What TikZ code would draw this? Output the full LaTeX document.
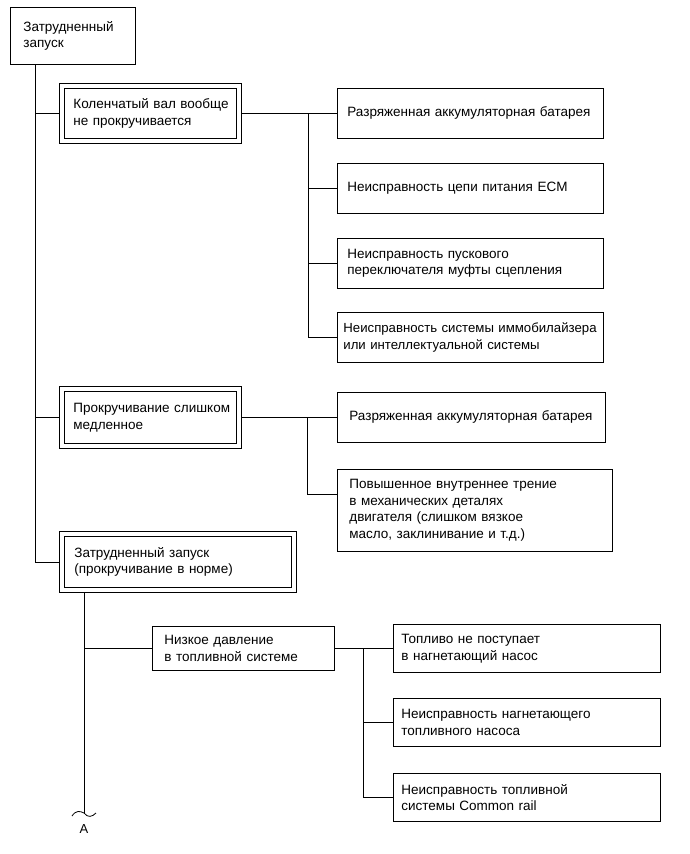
\documentclass[tikz,border=0pt]{standalone}
\usepackage{fontspec}
\setmainfont{Liberation Sans}
\tikzset{
  bx/.style={draw, line width=0.8pt, anchor=north west, align=left, inner ysep=0pt,
    font=\fontsize{13.5}{16.6}\selectfont},
  ln/.style={line width=0.8pt},
}
\newcommand\innerframe[1]{\draw[ln] ([shift={(5pt,-5pt)}]#1.north west) rectangle ([shift={(-5pt,5pt)}]#1.south east);}
\begin{document}
\begin{tikzpicture}[x=1pt,y=-1pt]
\useasboundingbox (0,0) rectangle (690,854);
% top
\node[bx, minimum width=125pt, minimum height=57pt, inner xsep=13pt, text width=99pt] (T) at (10,7) {Затрудненный\\запуск};
% double boxes
\node[bx, minimum width=182pt, minimum height=60pt, inner xsep=14pt, text width=154pt] (D1) at (59,83) {Коленчатый~вал~вообще\\не~прокручивается};
\innerframe{D1}
\node[bx, minimum width=182pt, minimum height=62pt, inner xsep=14pt, text width=154pt] (D2) at (59,386) {Прокручивание~слишком\\медленное};
\innerframe{D2}
\node[bx, minimum width=237pt, minimum height=61pt, inner xsep=15pt, text width=207pt] (D3) at (59,531) {Затрудненный~запуск\\(прокручивание~в~норме)};
\innerframe{D3}
% right group 1
\node[bx, minimum width=266pt, minimum height=50pt, inner xsep=10pt, text width=246pt] (R1) at (337,88) {Разряженная~аккумуляторная~батарея};
\node[bx, minimum width=266pt, minimum height=50pt, inner xsep=10pt, text width=246pt] (R2) at (337,163) {Неисправность~цепи~питания~ECM};
\node[bx, minimum width=266pt, minimum height=50pt, inner xsep=10pt, text width=246pt] (R3) at (337,238) {Неисправность~пускового\\переключателя~муфты~сцепления};
\node[bx, minimum width=266pt, minimum height=50pt, inner xsep=6pt, text width=254pt, font=\fontsize{13.2}{16.6}\selectfont] (R4) at (337,312) {Неисправность~системы~иммобилайзера\\или~интеллектуальной~системы};
% right group 2
\node[bx, minimum width=268pt, minimum height=50pt, inner xsep=12pt, text width=244pt] (R5) at (337,392) {Разряженная~аккумуляторная~батарея};
\node[bx, minimum width=275pt, minimum height=82pt, inner xsep=12pt, text width=251pt] (R6) at (337,469) {Повышенное~внутреннее~трение\\в~механических~деталях\\двигателя~(слишком~вязкое\\масло,~заклинивание~и~т.д.)};
% low pressure group
\node[bx, minimum width=182pt, minimum height=44pt, inner xsep=12pt, text width=158pt] (L) at (152,626) {Низкое~давление\\в~топливной~системе};
\node[bx, minimum width=267pt, minimum height=48pt, inner xsep=8pt, text width=251pt] (R7) at (393,624) {Топливо~не~поступает\\в~нагнетающий~насос};
\node[bx, minimum width=267pt, minimum height=48pt, inner xsep=8pt, text width=251pt] (R8) at (393,698) {Неисправность~нагнетающего\\топливного~насоса};
\node[bx, minimum width=267pt, minimum height=48pt, inner xsep=8pt, text width=251pt] (R9) at (393,773) {Неисправность~топливной\\системы~Common~rail};
% main trunk
\draw[ln] ([xshift=25pt]T.south west) |- (D3.west);
\draw[ln] ([xshift=25pt]T.south west) |- (D1.west);
\draw[ln] ([xshift=25pt]T.south west) |- (D2.west);
% group 1 connectors
\path (D1.east) ++(67,0) coordinate (b1);
\draw[ln] (D1.east) -- (R1.west);
\draw[ln] (b1) |- (R2.west);
\draw[ln] (b1) |- (R3.west);
\draw[ln] (b1) |- (R4.west);
% group 2 connectors
\path (D2.east) ++(66,0) coordinate (b2);
\draw[ln] (D2.east) -- (R5.west);
\draw[ln] (b2) |- ([yshift=-25pt]R6.north west);
% group 3
\coordinate (Aend) at (84,813);
\draw[ln] (D3.south west -| Aend) -- (Aend);
\draw[ln] (L.west -| Aend) -- (L.west);
\path (L.east) ++(29,0) coordinate (b3);
\draw[ln] (L.east) -- (R7.west);
\draw[ln] (b3) |- (R8.west);
\draw[ln] (b3) |- (R9.west);
% break mark and label
\draw[ln] (72,816) .. controls (76,810) and (80,811) .. (Aend) .. controls (88,818) and (92,817) .. (96,813);
\node[font=\fontsize{13}{15}\selectfont, inner sep=0pt] (A) at (84,829) {A};
\end{tikzpicture}
\end{document}
